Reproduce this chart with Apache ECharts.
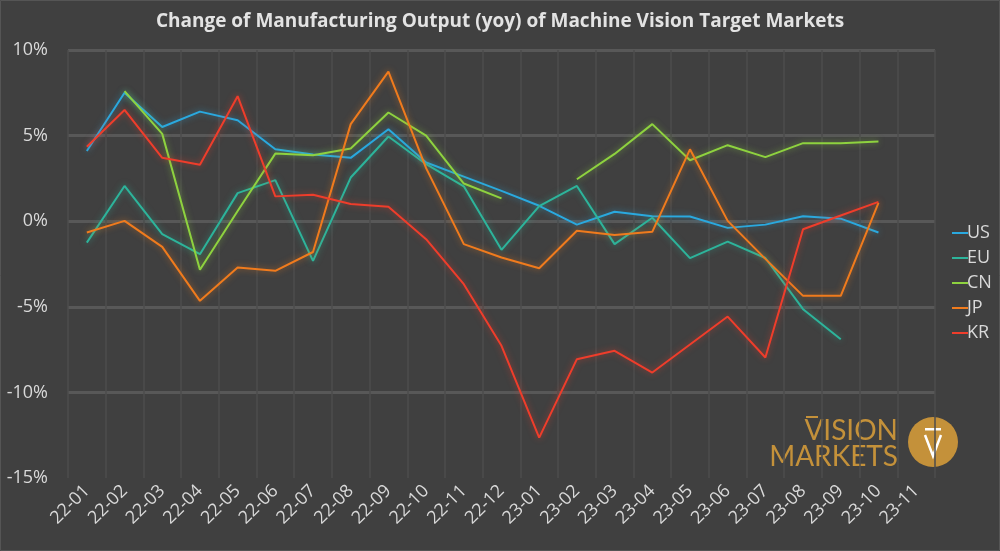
<!DOCTYPE html>
<html>
<head>
<meta charset="utf-8">
<script src="https://cdn.jsdelivr.net/npm/echarts@6/dist/echarts.min.js"></script>
<style>
html,body{margin:0;padding:0;background:#404040;}
#chart{width:1000px;height:551px;}
</style>
</head>
<body>
<div id="chart"></div>
<script>
const categories = ['22-01','22-02','22-03','22-04','22-05','22-06','22-07','22-08','22-09','22-10','22-11','22-12',
  '23-01','23-02','23-03','23-04','23-05','23-06','23-07','23-08','23-09','23-10','23-11'];
const US = [4.1, 7.5, 5.5, 6.4, 5.9, 4.2, 3.9, 3.7, 5.37, 3.43, 2.6, 1.77, 0.9, -0.2, 0.55, 0.29, 0.27, -0.39, -0.2, 0.29, 0.15, -0.66, null];
const EU = [-1.25, 2.06, -0.76, -1.93, 1.64, 2.4, -2.32, 2.55, 4.95, 3.33, 2.04, -1.67, 0.88, 2.06, -1.34, 0.2, -2.16, -1.19, -2.15, -5.14, -6.9, null, null];
const CN = [null, 7.6, 5.1, -2.84, 0.6, 3.95, 3.85, 4.25, 6.35, 5.0, 2.2, 1.33, null, 2.45, 3.93, 5.67, 3.56, 4.44, 3.74, 4.56, 4.56, 4.65, null];
const JP = [-0.66, 0.02, -1.5, -4.65, -2.7, -2.9, -1.8, 5.67, 8.74, 3.1, -1.34, -2.12, -2.75, -0.56, -0.8, -0.62, 4.2, 0.02, -2.2, -4.36, -4.36, 1.07, null];
const KR = [4.35, 6.5, 3.7, 3.3, 7.3, 1.45, 1.55, 1.0, 0.85, -1.05, -3.68, -7.28, -12.64, -8.06, -7.57, -8.84, -7.2, -5.57, -7.96, -0.47, 0.33, 1.13, null];
const seriesNames = ['US','EU','CN','JP','KR'];
const seriesData = [US, EU, CN, JP, KR];
const colors = ['#2aa9df', '#2db49b', '#8ed23f', '#f07b1d', '#ef3d2b'];

const chart = echarts.init(document.getElementById('chart'));
const font = '"Open Sans", "Noto Sans", sans-serif';
const gold = '#c4913a';

chart.setOption({
  backgroundColor: '#404040',
  title: {
    text: 'Change of Manufacturing Output (yoy) of Machine Vision Target Markets',
    left: 'center', top: 7,
    textStyle: {color: '#e3e3e3', fontSize: 19, fontWeight: 'bold', fontFamily: font}
  },
  legend: {
    orient: 'vertical', left: 947, top: 219, itemGap: 7,
    itemWidth: 16, itemHeight: 23,
    icon: 'path://M0,10 L16,10 L16,12 L0,12 Z',
    textStyle: {color: '#d9d9d9', fontSize: 18, fontFamily: font, padding: [0,0,0,-6]},
    data: seriesNames
  },
  grid: {left: 68, right: 65, top: 50, bottom: 73},
  xAxis: {
    type: 'category', data: categories, boundaryGap: true,
    axisLine: {show: false}, axisTick: {show: false},
    axisLabel: {color: '#d9d9d9', fontSize: 18, fontFamily: font, rotate: 45, margin: 10, interval: 0},
    splitLine: {show: true, interval: 0, lineStyle: {color: '#4c4c4c', width: 1.5}}
  },
  yAxis: {
    type: 'value', min: -15, max: 10, interval: 5,
    axisLine: {show: false}, axisTick: {show: false},
    axisLabel: {color: '#d9d9d9', fontSize: 18, fontFamily: font, margin: 20, formatter: '{value}%'},
    splitLine: {lineStyle: {color: ['rgba(0,0,0,0)', '#585858', '#585858', '#585858', '#585858', '#585858'], width: 3}}
  },
  series: seriesNames.map((n, i) => ({
    name: n, type: 'line', data: seriesData[i],
    symbol: 'none', connectNulls: false,
    lineStyle: {color: colors[i], width: 2, shadowColor: colors[i] + '99', shadowBlur: 6},
    itemStyle: {color: colors[i]},
    z: 2 + i
  })),
  graphic: [
    {type: 'rect', shape: {x: 0.5, y: 0.5, width: 999, height: 550}, style: {fill: 'none', stroke: '#555', lineWidth: 1}, silent: true},
    {type: 'text', right: 102, top: 417, style: {text: 'VISION', fill: gold, font: '28px Lato, "Open Sans", sans-serif'}},
    {type: 'rect', shape: {x: 806, y: 416, width: 12, height: 2}, style: {fill: gold}},
    {type: 'text', right: 102, top: 443, style: {text: 'MARKETS', fill: gold, font: '28px Lato, "Open Sans", sans-serif'}},
    {type: 'circle', shape: {cx: 933, cy: 442, r: 25}, style: {fill: gold}},
    {type: 'polyline', shape: {points: [[925, 435], [933, 456], [941, 435]]}, style: {stroke: '#ffffff', lineWidth: 2.5, fill: 'none'}},
    {type: 'rect', shape: {x: 925, y: 428, width: 16, height: 2.5}, style: {fill: '#ffffff'}}
  ]
});
</script>
</body>
</html>
